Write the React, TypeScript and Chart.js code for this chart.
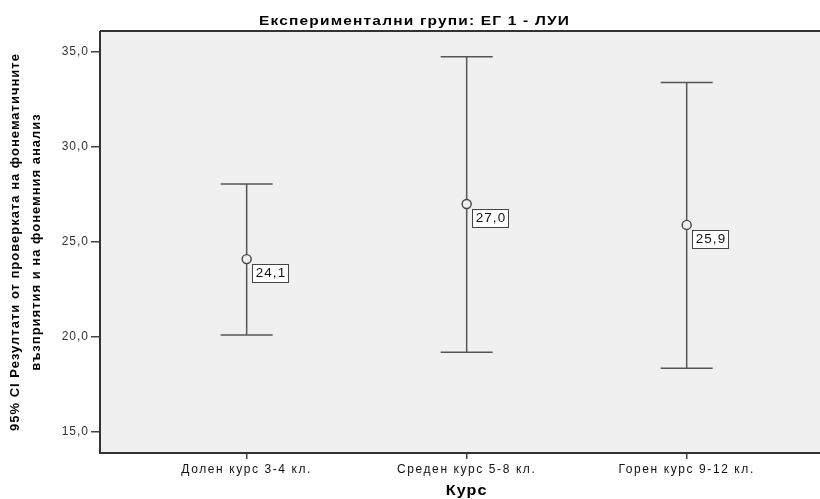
import React, { useEffect, useRef } from 'react';
import { Chart, registerables } from 'chart.js';

Chart.register(...registerables);

const categories = ['Долен курс 3-4 кл.', 'Среден курс 5-8 кл.', 'Горен курс 9-12 кл.'];
const means = [24.1, 27.0, 25.9];
const lowerCI = [20.1, 19.2, 18.35];
const upperCI = [28.05, 34.75, 33.4];
const yTicks = [15, 20, 25, 30, 35];
const chartTitle = 'Експериментални групи: ЕГ 1 - ЛУИ';
const xTitle = 'Курс';
const yTitle = ['95% CI Резултати от проверката на фонематичните', 'възприятия и на фонемния анализ'];

const FONT = '"Liberation Sans", Arial, sans-serif';
const fmt = (v: number) => v.toFixed(1).replace('.', ',');

function drawStretched(ctx: any, text: string, x: number, y: number, font: string, sx: number, ls: string) {
  ctx.save();
  ctx.translate(x, y);
  ctx.scale(sx, 1);
  ctx.font = font;
  ctx.letterSpacing = ls;
  ctx.textAlign = 'center';
  ctx.textBaseline = 'middle';
  ctx.fillText(text, 0, 0);
  ctx.restore();
}

function wrapLabels(s: any, ls: string) {
  if (s.__wrapped) return;
  const orig = s.drawLabels.bind(s);
  s.drawLabels = (ca: any) => {
    const c = s.ctx;
    const prev = c.letterSpacing;
    c.letterSpacing = ls;
    orig(ca);
    c.letterSpacing = prev;
  };
  s.__wrapped = true;
}

const spssPlugin = {
  id: 'spss',
  beforeDraw(chart: any) {
    const { ctx, chartArea: a } = chart;
    ctx.save();
    ctx.fillStyle = '#ffffff';
    ctx.fillRect(0, 0, chart.width, chart.height);
    ctx.fillStyle = '#F0F0F0';
    ctx.fillRect(a.left, a.top, a.right - a.left, a.bottom - a.top);
    ctx.restore();
    (ctx as any).letterSpacing = '1px';
  },
  beforeDatasetsDraw(chart: any) {
    const { ctx } = chart;
    const xs = chart.scales.x;
    const ys = chart.scales.y;
    ctx.save();
    ctx.strokeStyle = '#555555';
    ctx.lineWidth = 1.5;
    categories.forEach((_, i) => {
      const x = xs.getPixelForValue(i);
      const yl = ys.getPixelForValue(lowerCI[i]);
      const yu = ys.getPixelForValue(upperCI[i]);
      ctx.beginPath();
      ctx.moveTo(x, yl);
      ctx.lineTo(x, yu);
      ctx.moveTo(x - 26, yl);
      ctx.lineTo(x + 26, yl);
      ctx.moveTo(x - 26, yu);
      ctx.lineTo(x + 26, yu);
      ctx.stroke();
    });
    ctx.restore();
  },
  afterDatasetsDraw(chart: any) {
    const { ctx } = chart;
    const xs = chart.scales.x;
    const ys = chart.scales.y;
    ctx.save();
    categories.forEach((_, i) => {
      const x = xs.getPixelForValue(i);
      const y = ys.getPixelForValue(means[i]);
      const bx = Math.round(x + 5) + 0.5;
      const by = Math.round(y + 5) + 0.5;
      const bw = 36;
      const bh = 18;
      ctx.fillStyle = '#ffffff';
      ctx.fillRect(bx, by, bw, bh);
      ctx.strokeStyle = '#444444';
      ctx.lineWidth = 1;
      ctx.strokeRect(bx, by, bw, bh);
      ctx.fillStyle = '#111111';
      drawStretched(ctx, fmt(means[i]), bx + bw / 2 + 0.5, by + bh / 2 + 0.5, `12px ${FONT}`, 1.12, '1px');
    });
    ctx.restore();
  },
  afterDraw(chart: any) {
    const { ctx, chartArea: a } = chart;
    const xs = chart.scales.x;
    ctx.save();
    ctx.strokeStyle = '#333333';
    ctx.lineWidth = 2;
    ctx.beginPath();
    ctx.moveTo(a.left, a.top);
    ctx.lineTo(a.right, a.top);
    ctx.moveTo(a.left, a.top);
    ctx.lineTo(a.left, a.bottom);
    ctx.lineTo(a.right, a.bottom);
    ctx.stroke();

    ctx.fillStyle = '#000000';
    drawStretched(ctx, chartTitle, 414.5, 21, `bold 13px ${FONT}`, 1.19, '1px');
    drawStretched(ctx, xTitle, xs.getPixelForValue(1), 491, `bold 14px ${FONT}`, 1.15, '1px');
    ctx.restore();
  },
};

export default function App() {
  const ref = useRef<HTMLCanvasElement | null>(null);

  useEffect(() => {
    if (!ref.current) return;
    const chart = new Chart(ref.current, {
      type: 'scatter',
      data: {
        datasets: [
          {
            data: means.map((m, i) => ({ x: i, y: m })),
            pointRadius: 4.5,
            pointHoverRadius: 4.5,
            pointBorderColor: '#444444',
            pointBackgroundColor: '#F0F0F0',
            pointBorderWidth: 1.4,
            showLine: false,
          },
        ],
      },
      options: {
        animation: false,
        responsive: false,
        events: [],
        layout: { autoPadding: false, padding: { top: 31, right: 0, left: 0, bottom: 0 } },
        plugins: {
          legend: { display: false },
          tooltip: { enabled: false },
          title: { display: false },
        },
        scales: {
          x: {
            type: 'linear',
            min: -0.6667,
            max: 2.606,
            afterFit: (s: any) => {
              s.height = 46;
              s.paddingLeft = 0;
              s.paddingRight = 0;
              wrapLabels(s, '1.6px');
            },
            afterBuildTicks: (s: any) => {
              s.ticks = categories.map((_, i) => ({ value: i }));
            },
            border: { display: false },
            grid: {
              display: true,
              drawOnChartArea: false,
              drawTicks: true,
              tickLength: 6,
              color: '#444444',
              lineWidth: 1.5,
            },
            ticks: {
              autoSkip: false,
              maxRotation: 0,
              padding: 3,
              color: '#111111',
              font: { family: FONT, size: 12 },
              callback: (v: any) => categories[Math.round(Number(v))] ?? '',
            },
          },
          y: {
            type: 'linear',
            min: 13.895,
            max: 36.105,
            afterFit: (s: any) => {
              s.width = 100;
              s.paddingTop = 0;
              s.paddingBottom = 0;
              wrapLabels(s, '1px');
            },
            afterBuildTicks: (s: any) => {
              s.ticks = yTicks.map((v) => ({ value: v }));
            },
            border: { display: false },
            grid: {
              display: true,
              drawOnChartArea: false,
              drawTicks: true,
              tickLength: 9,
              color: '#444444',
              lineWidth: 1.5,
            },
            ticks: {
              padding: 2,
              color: '#333333',
              font: { family: FONT, size: 12 },
              callback: (v: any) => fmt(Number(v)),
            },
            title: {
              display: true,
              text: yTitle,
              color: '#000000',
              padding: { top: 5, bottom: 0 },
              font: { family: FONT, size: 13, weight: 'bold', lineHeight: '21px' },
            },
          },
        },
      },
      plugins: [spssPlugin],
    } as any);
    return () => chart.destroy();
  }, []);

  return (
    <div style={{ position: 'fixed', left: 0, top: 0, width: 820, height: 499, background: '#fff' }}>
      <canvas ref={ref} width={820} height={499} style={{ display: 'block' }} />
    </div>
  );
}
